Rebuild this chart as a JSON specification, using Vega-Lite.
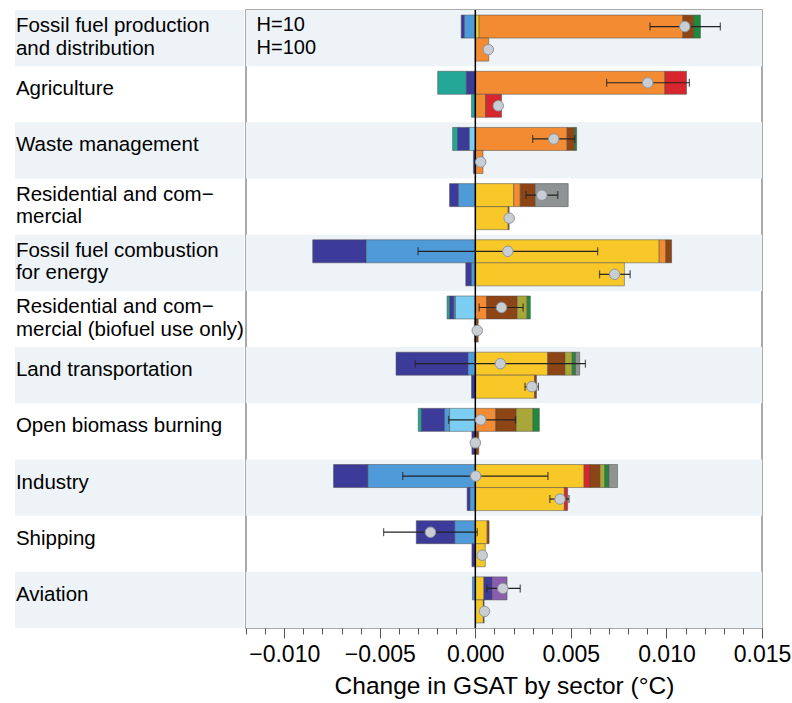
{
 "$schema": "https://vega.github.io/schema/vega-lite/v6.json",
 "padding": {"left": 15, "top": 8, "right": 0, "bottom": 0},
 "background": "white",
 "spacing": 0,
 "config": {"font": "Liberation Sans", "view": {"stroke": null}},
 "datasets": {
  "stripes": [
   {"sector": "Fossil fuel production and distribution"},
   {"sector": "Waste management"},
   {"sector": "Fossil fuel combustion for energy"},
   {"sector": "Land transportation"},
   {"sector": "Industry"},
   {"sector": "Aviation"}
  ],
  "sectors": [
   {"sector": "Fossil fuel production and distribution", "label": "Fossil fuel production\nand distribution"},
   {"sector": "Agriculture", "label": "Agriculture"},
   {"sector": "Waste management", "label": "Waste management"},
   {"sector": "Residential and commercial", "label": "Residential and com−\nmercial"},
   {"sector": "Fossil fuel combustion for energy", "label": "Fossil fuel combustion\nfor energy"},
   {"sector": "Residential and commercial (biofuel use only)", "label": "Residential and com−\nmercial (biofuel use only)"},
   {"sector": "Land transportation", "label": "Land transportation"},
   {"sector": "Open biomass burning", "label": "Open biomass burning"},
   {"sector": "Industry", "label": "Industry"},
   {"sector": "Shipping", "label": "Shipping"},
   {"sector": "Aviation", "label": "Aviation"}
  ],
  "speciesRank": [
   {"species": "OC", "rank": 1}, {"species": "SO2", "rank": 2}, {"species": "NOx", "rank": 3}, {"species": "NH3", "rank": 4},
   {"species": "CO2", "rank": 1}, {"species": "CH4", "rank": 2}, {"species": "N2O", "rank": 3}, {"species": "BC", "rank": 5},
   {"species": "CO", "rank": 6}, {"species": "VOC", "rank": 7}, {"species": "Contrail", "rank": 8}, {"species": "HFC", "rank": 9}
  ],
  "hlabels": [
   {"sector": "Fossil fuel production and distribution", "h": "H10", "label": "H=10"},
   {"sector": "Fossil fuel production and distribution", "h": "H100", "label": "H=100"}
  ],
  "bars": [
   {"sector": "Fossil fuel production and distribution", "h": "H10", "species": "NOx", "v": -0.00017},
   {"sector": "Fossil fuel production and distribution", "h": "H10", "species": "SO2", "v": -0.00057},
   {"sector": "Fossil fuel production and distribution", "h": "H10", "species": "CO2", "v": 0.0002},
   {"sector": "Fossil fuel production and distribution", "h": "H10", "species": "CH4", "v": 0.01066},
   {"sector": "Fossil fuel production and distribution", "h": "H10", "species": "BC", "v": 0.00057},
   {"sector": "Fossil fuel production and distribution", "h": "H10", "species": "VOC", "v": 0.00035},
   {"sector": "Fossil fuel production and distribution", "h": "H100", "species": "CH4", "v": 0.0007},
   {"sector": "Agriculture", "h": "H10", "species": "NH3", "v": -0.0015},
   {"sector": "Agriculture", "h": "H10", "species": "NOx", "v": -0.00047},
   {"sector": "Agriculture", "h": "H10", "species": "CH4", "v": 0.00992},
   {"sector": "Agriculture", "h": "H10", "species": "N2O", "v": 0.00113},
   {"sector": "Agriculture", "h": "H100", "species": "NH3", "v": -0.0002},
   {"sector": "Agriculture", "h": "H100", "species": "CH4", "v": 0.00054},
   {"sector": "Agriculture", "h": "H100", "species": "N2O", "v": 0.00083},
   {"sector": "Waste management", "h": "H10", "species": "NH3", "v": -0.00026},
   {"sector": "Waste management", "h": "H10", "species": "NOx", "v": -0.00062},
   {"sector": "Waste management", "h": "H10", "species": "OC", "v": -0.00031},
   {"sector": "Waste management", "h": "H10", "species": "CH4", "v": 0.0048},
   {"sector": "Waste management", "h": "H10", "species": "BC", "v": 0.0004},
   {"sector": "Waste management", "h": "H10", "species": "VOC", "v": 0.0001},
   {"sector": "Waste management", "h": "H100", "species": "NOx", "v": -0.0001},
   {"sector": "Waste management", "h": "H100", "species": "CH4", "v": 0.0004},
   {"sector": "Residential and commercial", "h": "H10", "species": "NOx", "v": -0.00047},
   {"sector": "Residential and commercial", "h": "H10", "species": "SO2", "v": -0.00088},
   {"sector": "Residential and commercial", "h": "H10", "species": "CO2", "v": 0.00201},
   {"sector": "Residential and commercial", "h": "H10", "species": "CH4", "v": 0.00034},
   {"sector": "Residential and commercial", "h": "H10", "species": "BC", "v": 0.00078},
   {"sector": "Residential and commercial", "h": "H10", "species": "HFC", "v": 0.00173},
   {"sector": "Residential and commercial", "h": "H100", "species": "CO2", "v": 0.00172},
   {"sector": "Residential and commercial", "h": "H100", "species": "BC", "v": 0.00005},
   {"sector": "Fossil fuel combustion for energy", "h": "H10", "species": "NOx", "v": -0.0028},
   {"sector": "Fossil fuel combustion for energy", "h": "H10", "species": "SO2", "v": -0.00571},
   {"sector": "Fossil fuel combustion for energy", "h": "H10", "species": "CO2", "v": 0.00962},
   {"sector": "Fossil fuel combustion for energy", "h": "H10", "species": "CH4", "v": 0.00035},
   {"sector": "Fossil fuel combustion for energy", "h": "H10", "species": "BC", "v": 0.0003},
   {"sector": "Fossil fuel combustion for energy", "h": "H100", "species": "NOx", "v": -0.0003},
   {"sector": "Fossil fuel combustion for energy", "h": "H100", "species": "SO2", "v": -0.0002},
   {"sector": "Fossil fuel combustion for energy", "h": "H100", "species": "CO2", "v": 0.0078},
   {"sector": "Residential and commercial (biofuel use only)", "h": "H10", "species": "NH3", "v": -0.00014},
   {"sector": "Residential and commercial (biofuel use only)", "h": "H10", "species": "NOx", "v": -0.00022},
   {"sector": "Residential and commercial (biofuel use only)", "h": "H10", "species": "SO2", "v": -0.00008},
   {"sector": "Residential and commercial (biofuel use only)", "h": "H10", "species": "OC", "v": -0.00104},
   {"sector": "Residential and commercial (biofuel use only)", "h": "H10", "species": "CH4", "v": 0.00059},
   {"sector": "Residential and commercial (biofuel use only)", "h": "H10", "species": "BC", "v": 0.0016},
   {"sector": "Residential and commercial (biofuel use only)", "h": "H10", "species": "CO", "v": 0.00052},
   {"sector": "Residential and commercial (biofuel use only)", "h": "H10", "species": "VOC", "v": 0.00017},
   {"sector": "Residential and commercial (biofuel use only)", "h": "H100", "species": "OC", "v": -0.00005},
   {"sector": "Residential and commercial (biofuel use only)", "h": "H100", "species": "BC", "v": 0.00015},
   {"sector": "Land transportation", "h": "H10", "species": "NOx", "v": -0.00377},
   {"sector": "Land transportation", "h": "H10", "species": "SO2", "v": -0.00038},
   {"sector": "Land transportation", "h": "H10", "species": "CO2", "v": 0.00379},
   {"sector": "Land transportation", "h": "H10", "species": "BC", "v": 0.0009},
   {"sector": "Land transportation", "h": "H10", "species": "CO", "v": 0.00038},
   {"sector": "Land transportation", "h": "H10", "species": "VOC", "v": 0.00017},
   {"sector": "Land transportation", "h": "H10", "species": "HFC", "v": 0.00022},
   {"sector": "Land transportation", "h": "H100", "species": "NOx", "v": -0.0002},
   {"sector": "Land transportation", "h": "H100", "species": "CO2", "v": 0.0031},
   {"sector": "Land transportation", "h": "H100", "species": "BC", "v": 0.0001},
   {"sector": "Open biomass burning", "h": "H10", "species": "NH3", "v": -0.00017},
   {"sector": "Open biomass burning", "h": "H10", "species": "NOx", "v": -0.00121},
   {"sector": "Open biomass burning", "h": "H10", "species": "SO2", "v": -0.00026},
   {"sector": "Open biomass burning", "h": "H10", "species": "OC", "v": -0.00135},
   {"sector": "Open biomass burning", "h": "H10", "species": "CH4", "v": 0.00107},
   {"sector": "Open biomass burning", "h": "H10", "species": "BC", "v": 0.00107},
   {"sector": "Open biomass burning", "h": "H10", "species": "CO", "v": 0.00088},
   {"sector": "Open biomass burning", "h": "H10", "species": "VOC", "v": 0.00033},
   {"sector": "Open biomass burning", "h": "H100", "species": "NOx", "v": -0.00018},
   {"sector": "Open biomass burning", "h": "H100", "species": "BC", "v": 0.00018},
   {"sector": "Industry", "h": "H10", "species": "NOx", "v": -0.0018},
   {"sector": "Industry", "h": "H10", "species": "SO2", "v": -0.00562},
   {"sector": "Industry", "h": "H10", "species": "CO2", "v": 0.00569},
   {"sector": "Industry", "h": "H10", "species": "N2O", "v": 0.00031},
   {"sector": "Industry", "h": "H10", "species": "BC", "v": 0.00052},
   {"sector": "Industry", "h": "H10", "species": "CO", "v": 0.00026},
   {"sector": "Industry", "h": "H10", "species": "VOC", "v": 0.00021},
   {"sector": "Industry", "h": "H10", "species": "HFC", "v": 0.00045},
   {"sector": "Industry", "h": "H100", "species": "NOx", "v": -0.00015},
   {"sector": "Industry", "h": "H100", "species": "SO2", "v": -0.00028},
   {"sector": "Industry", "h": "H100", "species": "CO2", "v": 0.00466},
   {"sector": "Industry", "h": "H100", "species": "N2O", "v": 0.00017},
   {"sector": "Shipping", "h": "H10", "species": "NOx", "v": -0.00202},
   {"sector": "Shipping", "h": "H10", "species": "SO2", "v": -0.00107},
   {"sector": "Shipping", "h": "H10", "species": "CO2", "v": 0.00062},
   {"sector": "Shipping", "h": "H10", "species": "BC", "v": 0.0001},
   {"sector": "Shipping", "h": "H100", "species": "NOx", "v": -0.00018},
   {"sector": "Shipping", "h": "H100", "species": "CO2", "v": 0.00052},
   {"sector": "Aviation", "h": "H10", "species": "SO2", "v": -0.00015},
   {"sector": "Aviation", "h": "H10", "species": "CO2", "v": 0.00045},
   {"sector": "Aviation", "h": "H10", "species": "NOx", "v": 0.00043},
   {"sector": "Aviation", "h": "H10", "species": "Contrail", "v": 0.00078},
   {"sector": "Aviation", "h": "H100", "species": "CO2", "v": 0.00042},
   {"sector": "Aviation", "h": "H100", "species": "NOx", "v": 0.00004}
  ],
  "net": [
   {"sector": "Fossil fuel production and distribution", "h": "H10", "net": 0.01096, "lo": 0.00914, "hi": 0.01282},
   {"sector": "Fossil fuel production and distribution", "h": "H100", "net": 0.00068},
   {"sector": "Agriculture", "h": "H10", "net": 0.00902, "lo": 0.00687, "hi": 0.0112},
   {"sector": "Agriculture", "h": "H100", "net": 0.0012},
   {"sector": "Waste management", "h": "H10", "net": 0.0041, "lo": 0.003, "hi": 0.0052},
   {"sector": "Waste management", "h": "H100", "net": 0.00028},
   {"sector": "Residential and commercial", "h": "H10", "net": 0.00348, "lo": 0.00265, "hi": 0.00431},
   {"sector": "Residential and commercial", "h": "H100", "net": 0.00177},
   {"sector": "Fossil fuel combustion for energy", "h": "H10", "net": 0.0017, "lo": -0.003, "hi": 0.0064},
   {"sector": "Fossil fuel combustion for energy", "h": "H100", "net": 0.00729, "lo": 0.0065, "hi": 0.0081},
   {"sector": "Residential and commercial (biofuel use only)", "h": "H10", "net": 0.00137, "lo": 0.0002, "hi": 0.0025},
   {"sector": "Residential and commercial (biofuel use only)", "h": "H100", "net": 0.0001},
   {"sector": "Land transportation", "h": "H10", "net": 0.00131, "lo": -0.00315, "hi": 0.00576},
   {"sector": "Land transportation", "h": "H100", "net": 0.00296, "lo": 0.0026, "hi": 0.0033},
   {"sector": "Open biomass burning", "h": "H10", "net": 0.00028, "lo": -0.0014, "hi": 0.0021},
   {"sector": "Open biomass burning", "h": "H100", "net": 0.0},
   {"sector": "Industry", "h": "H10", "net": 0.00002, "lo": -0.0038, "hi": 0.0038},
   {"sector": "Industry", "h": "H100", "net": 0.00443, "lo": 0.0039, "hi": 0.0049},
   {"sector": "Shipping", "h": "H10", "net": -0.00235, "lo": -0.0048, "hi": 0.0001},
   {"sector": "Shipping", "h": "H100", "net": 0.00036},
   {"sector": "Aviation", "h": "H10", "net": 0.00144, "lo": 0.0006, "hi": 0.00235},
   {"sector": "Aviation", "h": "H100", "net": 0.00048}
  ]
 },
 "hconcat": [
  {
   "width": 229,
   "height": 618,
   "layer": [
    {
     "data": {"name": "stripes"},
     "mark": {"type": "bar", "color": "#EEF3F7"},
     "encoding": {
      "y": {"field": "sector", "type": "nominal", "axis": null, "scale": {"domain": ["Fossil fuel production and distribution", "Agriculture", "Waste management", "Residential and commercial", "Fossil fuel combustion for energy", "Residential and commercial (biofuel use only)", "Land transportation", "Open biomass burning", "Industry", "Shipping", "Aviation"], "paddingInner": 0, "paddingOuter": 0}},
      "x": {"datum": 0, "type": "quantitative", "axis": null, "scale": {"domain": [0, 1]}},
      "x2": {"datum": 1}
     }
    },
    {
     "data": {"name": "sectors"},
     "transform": [{"filter": "indexof(datum.label, '\\n') >= 0"}],
     "mark": {"type": "text", "align": "left", "baseline": "middle", "fontSize": 20.5, "lineBreak": "\n", "lineHeight": 22.5, "dy": -12, "color": "black"},
     "encoding": {
      "y": {"field": "sector", "type": "nominal", "axis": null, "scale": {"domain": ["Fossil fuel production and distribution", "Agriculture", "Waste management", "Residential and commercial", "Fossil fuel combustion for energy", "Residential and commercial (biofuel use only)", "Land transportation", "Open biomass burning", "Industry", "Shipping", "Aviation"], "paddingInner": 0, "paddingOuter": 0}},
      "x": {"datum": 0.004, "type": "quantitative", "axis": null, "scale": {"domain": [0, 1]}},
      "text": {"field": "label"}
     }
    },
    {
     "data": {"name": "sectors"},
     "transform": [{"filter": "indexof(datum.label, '\\n') < 0"}],
     "mark": {"type": "text", "align": "left", "baseline": "middle", "fontSize": 20.5, "dy": -5, "color": "black"},
     "encoding": {
      "y": {"field": "sector", "type": "nominal", "axis": null, "scale": {"domain": ["Fossil fuel production and distribution", "Agriculture", "Waste management", "Residential and commercial", "Fossil fuel combustion for energy", "Residential and commercial (biofuel use only)", "Land transportation", "Open biomass burning", "Industry", "Shipping", "Aviation"], "paddingInner": 0, "paddingOuter": 0}},
      "x": {"datum": 0.004, "type": "quantitative", "axis": null, "scale": {"domain": [0, 1]}},
      "text": {"field": "label"}
     }
    }
   ]
  },
  {
   "width": 516,
   "height": 618,
   "view": {"stroke": "#8f8f8f", "strokeWidth": 1.5},
   "resolve": {"axis": {"x": "independent"}},
   "layer": [
    {
     "data": {"name": "stripes"},
     "mark": {"type": "bar", "color": "#EEF3F7"},
     "encoding": {
      "y": {"field": "sector", "type": "nominal", "axis": null, "scale": {"domain": ["Fossil fuel production and distribution", "Agriculture", "Waste management", "Residential and commercial", "Fossil fuel combustion for energy", "Residential and commercial (biofuel use only)", "Land transportation", "Open biomass burning", "Industry", "Shipping", "Aviation"], "paddingInner": 0, "paddingOuter": 0}},
      "x": {"datum": -0.012, "type": "quantitative", "scale": {"domain": [-0.012, 0.015], "nice": false, "zero": false},
       "axis": {"orient": "bottom", "values": [-0.012, -0.011, -0.010, -0.009, -0.008, -0.007, -0.006, -0.005, -0.004, -0.003, -0.002, -0.001, 0, 0.001, 0.002, 0.003, 0.004, 0.005, 0.006, 0.007, 0.008, 0.009, 0.010, 0.011, 0.012, 0.013, 0.014, 0.015], "labels": false, "domain": false, "grid": false, "ticks": true, "tickSize": 6, "tickColor": "#555555", "tickWidth": 1, "title": null}},
      "x2": {"datum": 0.015}
     }
    },
    {
     "data": {"name": "bars"},
     "transform": [
      {"lookup": "species", "from": {"data": {"name": "speciesRank"}, "key": "species", "fields": ["rank"]}},
      {"stack": "v", "groupby": ["sector", "h"], "sort": [{"field": "rank", "order": "ascending"}], "as": ["v0", "v1"], "offset": "zero"}
     ],
     "mark": {"type": "bar", "stroke": "#4a4a4a", "strokeWidth": 0.5},
     "encoding": {
      "y": {"field": "sector", "type": "nominal", "axis": null, "scale": {"domain": ["Fossil fuel production and distribution", "Agriculture", "Waste management", "Residential and commercial", "Fossil fuel combustion for energy", "Residential and commercial (biofuel use only)", "Land transportation", "Open biomass burning", "Industry", "Shipping", "Aviation"], "paddingInner": 0, "paddingOuter": 0}},
      "yOffset": {"field": "h", "type": "nominal", "scale": {"domain": ["H10", "H100"], "paddingInner": 0, "paddingOuter": 0.22}},
      "x": {"field": "v0", "type": "quantitative", "scale": {"domain": [-0.012, 0.015], "nice": false, "zero": false},
       "axis": {"orient": "bottom", "values": [-0.010, -0.005, 0, 0.005, 0.010, 0.015], "format": ".3f", "labelFontSize": 23, "labelColor": "black", "labelPadding": 5, "labelFlush": false, "labelOverlap": false, "tickSize": 10, "tickColor": "#555555", "tickWidth": 1, "domain": false, "grid": false, "title": "Change in GSAT by sector (°C)", "titleFontSize": 24.5, "titleFontWeight": "normal", "titleColor": "black", "titlePadding": 8}},
      "x2": {"field": "v1"},
      "color": {"field": "species", "type": "nominal", "legend": null,
       "scale": {"domain": ["CO2", "CH4", "N2O", "NOx", "SO2", "OC", "NH3", "BC", "CO", "VOC", "HFC", "Contrail"],
                 "range": ["#F8C828", "#F38B33", "#D7262D", "#3D3B9A", "#4F9BDA", "#7CCDF2", "#25A797", "#8E4515", "#A9A63A", "#1D8A3D", "#8F9393", "#8A5DAE"]}}
     }
    },
    {
     "data": {"values": [{}]},
     "mark": {"type": "rule", "color": "black", "strokeWidth": 1.5},
     "encoding": {
      "x": {"datum": 0, "type": "quantitative", "axis": null, "scale": {"domain": [-0.012, 0.015], "nice": false, "zero": false}}
     }
    },
    {
     "data": {"name": "net"},
     "transform": [{"filter": "isValid(datum.lo)"}],
     "mark": {"type": "rule", "color": "#222222", "strokeWidth": 1.2},
     "encoding": {
      "y": {"field": "sector", "type": "nominal", "axis": null, "scale": {"domain": ["Fossil fuel production and distribution", "Agriculture", "Waste management", "Residential and commercial", "Fossil fuel combustion for energy", "Residential and commercial (biofuel use only)", "Land transportation", "Open biomass burning", "Industry", "Shipping", "Aviation"], "paddingInner": 0, "paddingOuter": 0}},
      "yOffset": {"field": "h", "type": "nominal", "scale": {"domain": ["H10", "H100"], "paddingInner": 0, "paddingOuter": 0.22}},
      "x": {"field": "lo", "type": "quantitative", "axis": null, "scale": {"domain": [-0.012, 0.015], "nice": false, "zero": false}},
      "x2": {"field": "hi"}
     }
    },
    {
     "data": {"name": "net"},
     "transform": [{"filter": "isValid(datum.lo)"}, {"fold": ["lo", "hi"], "as": ["end", "val"]}],
     "mark": {"type": "tick", "orient": "vertical", "color": "#222222", "thickness": 1.3, "size": 8},
     "encoding": {
      "y": {"field": "sector", "type": "nominal", "axis": null, "scale": {"domain": ["Fossil fuel production and distribution", "Agriculture", "Waste management", "Residential and commercial", "Fossil fuel combustion for energy", "Residential and commercial (biofuel use only)", "Land transportation", "Open biomass burning", "Industry", "Shipping", "Aviation"], "paddingInner": 0, "paddingOuter": 0}},
      "yOffset": {"field": "h", "type": "nominal", "scale": {"domain": ["H10", "H100"], "paddingInner": 0, "paddingOuter": 0.22}},
      "x": {"field": "val", "type": "quantitative", "axis": null, "scale": {"domain": [-0.012, 0.015], "nice": false, "zero": false}}
     }
    },
    {
     "data": {"name": "net"},
     "mark": {"type": "point", "filled": true, "fill": "#C9CED4", "stroke": "#8E959C", "strokeWidth": 1, "size": 110, "opacity": 1},
     "encoding": {
      "y": {"field": "sector", "type": "nominal", "axis": null, "scale": {"domain": ["Fossil fuel production and distribution", "Agriculture", "Waste management", "Residential and commercial", "Fossil fuel combustion for energy", "Residential and commercial (biofuel use only)", "Land transportation", "Open biomass burning", "Industry", "Shipping", "Aviation"], "paddingInner": 0, "paddingOuter": 0}},
      "yOffset": {"field": "h", "type": "nominal", "scale": {"domain": ["H10", "H100"], "paddingInner": 0, "paddingOuter": 0.22}},
      "x": {"field": "net", "type": "quantitative", "axis": null, "scale": {"domain": [-0.012, 0.015], "nice": false, "zero": false}}
     }
    },
    {
     "data": {"name": "hlabels"},
     "mark": {"type": "text", "align": "left", "baseline": "middle", "fontSize": 20, "dy": -1.5, "color": "black"},
     "encoding": {
      "y": {"field": "sector", "type": "nominal", "axis": null, "scale": {"domain": ["Fossil fuel production and distribution", "Agriculture", "Waste management", "Residential and commercial", "Fossil fuel combustion for energy", "Residential and commercial (biofuel use only)", "Land transportation", "Open biomass burning", "Industry", "Shipping", "Aviation"], "paddingInner": 0, "paddingOuter": 0}},
      "yOffset": {"field": "h", "type": "nominal", "scale": {"domain": ["H10", "H100"], "paddingInner": 0, "paddingOuter": 0.22}},
      "x": {"datum": -0.01145, "type": "quantitative", "axis": null, "scale": {"domain": [-0.012, 0.015], "nice": false, "zero": false}},
      "text": {"field": "label"}
     }
    }
   ]
  }
 ]
}
